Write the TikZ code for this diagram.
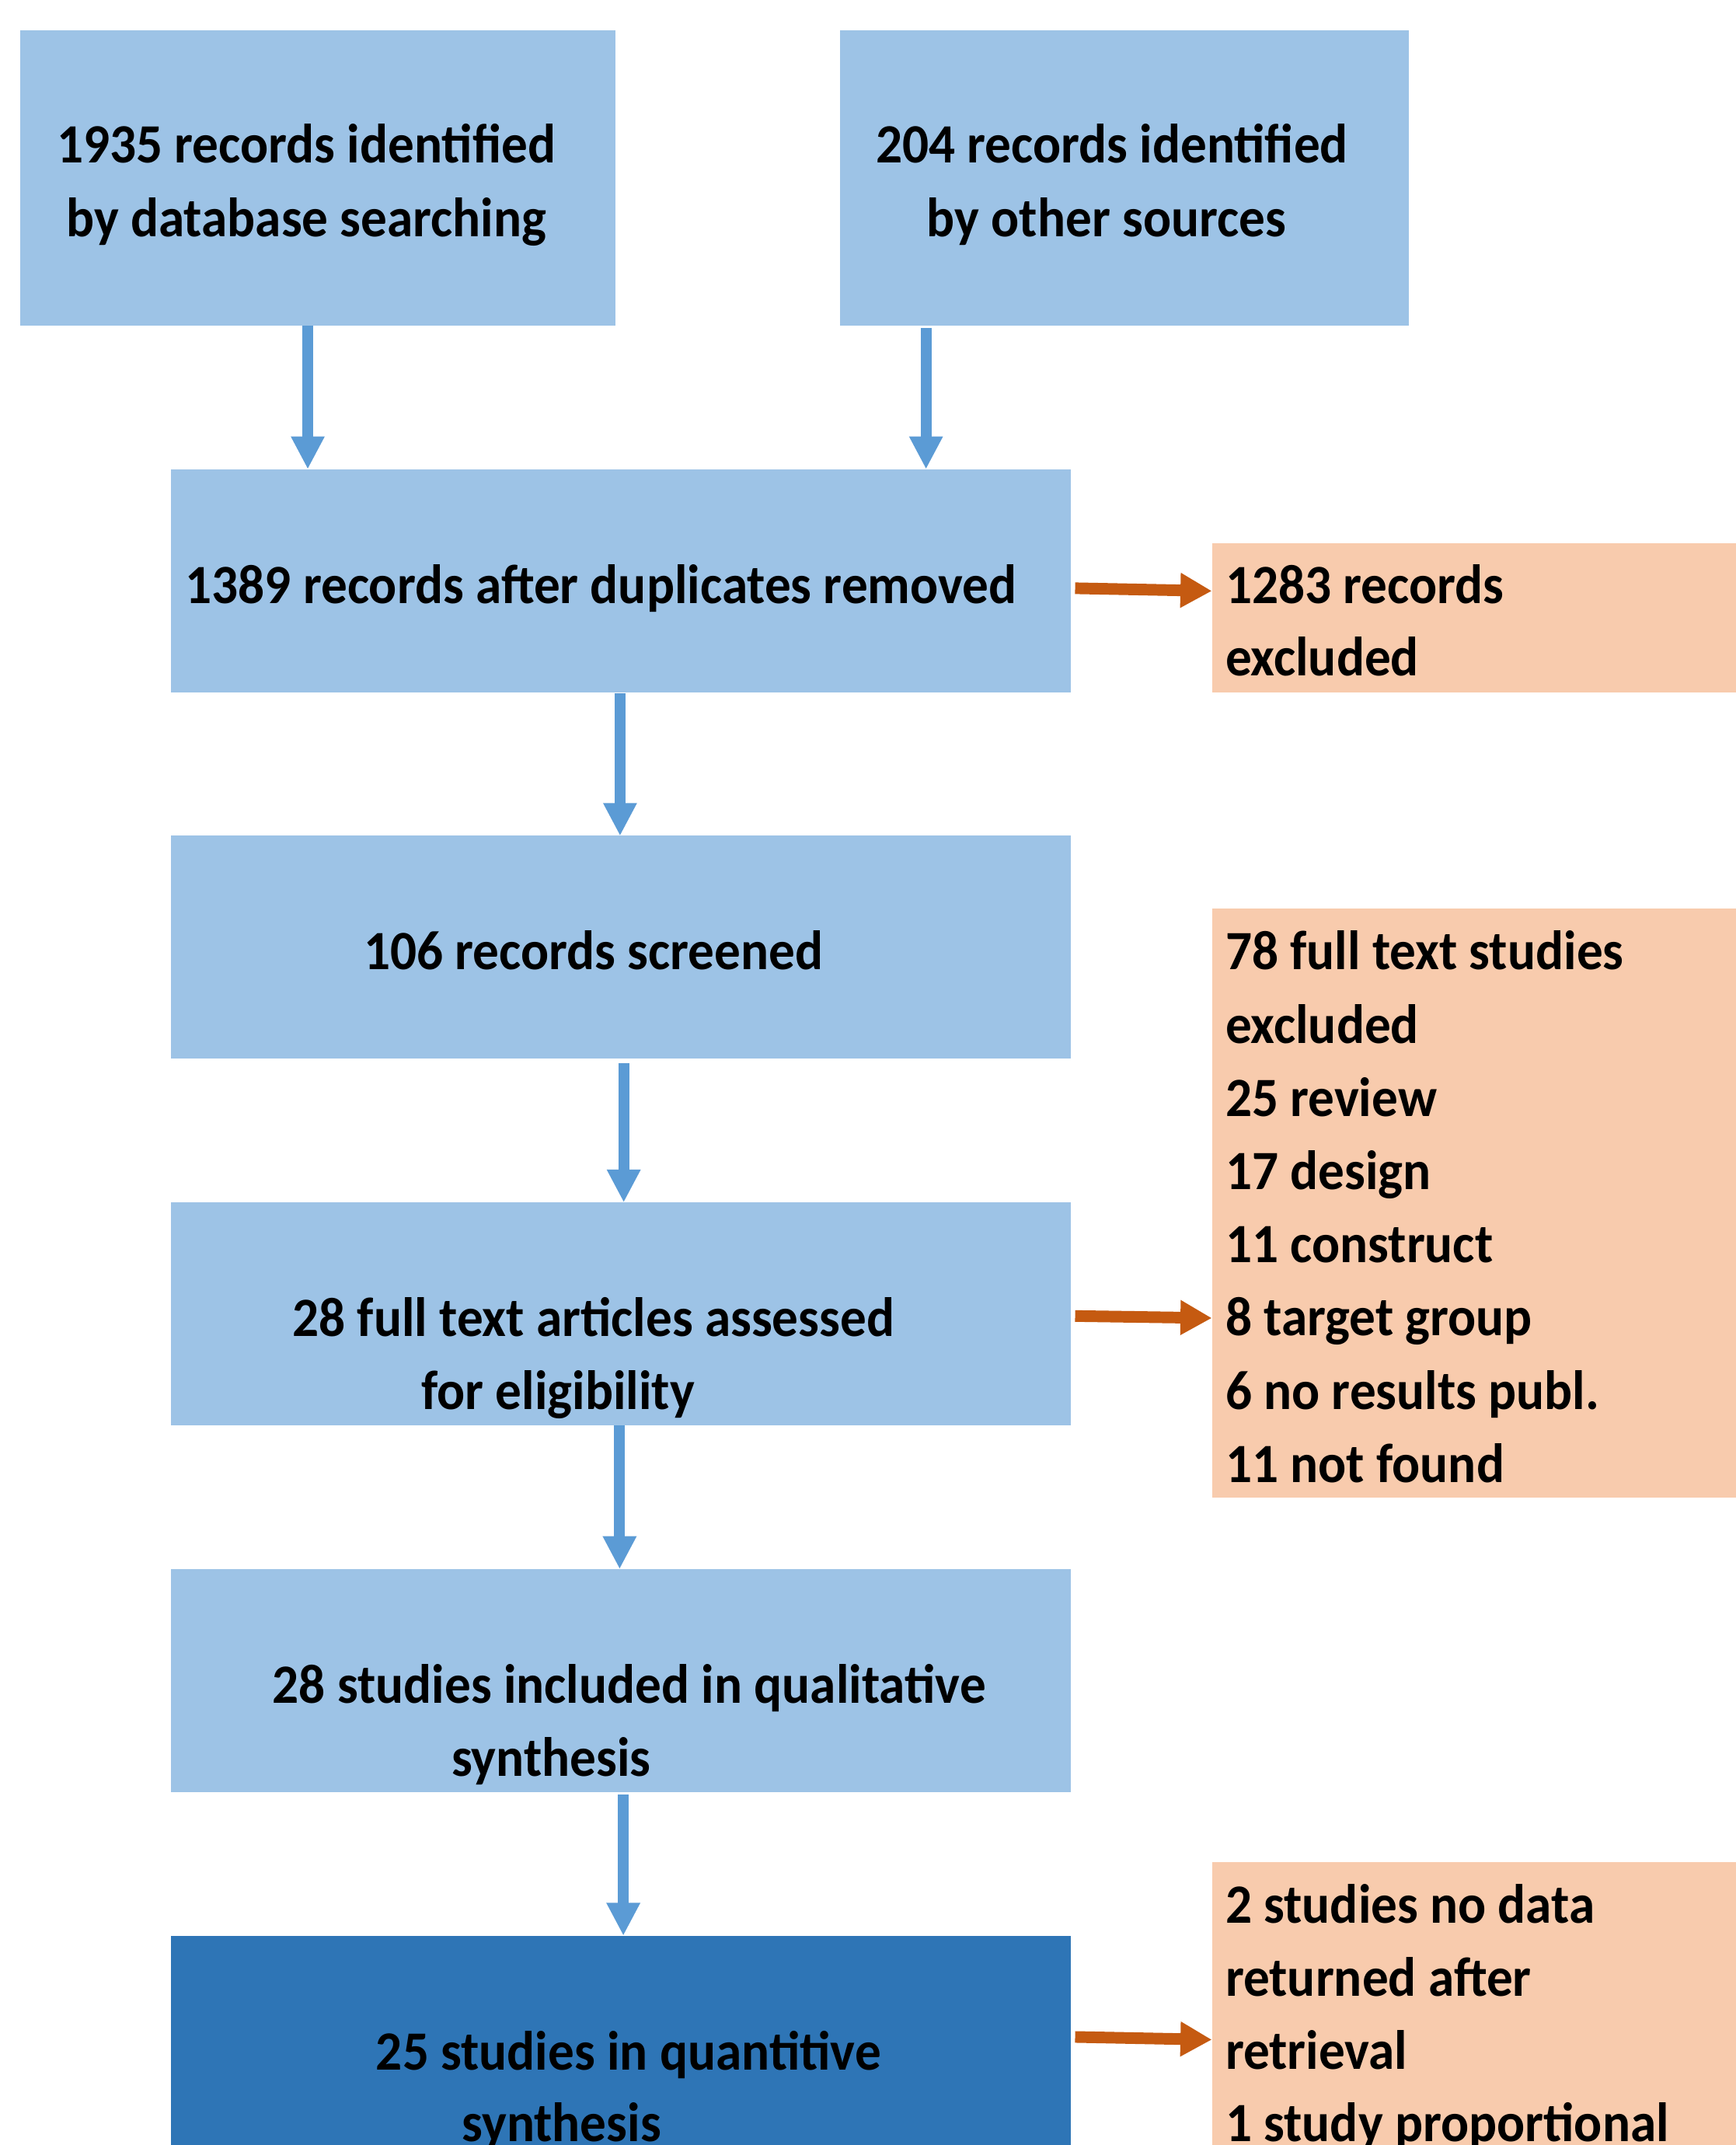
\documentclass[tikz,border=0pt]{standalone}
\usepackage{fontspec}
\setmainfont{Carlito}
\usetikzlibrary{arrows.meta}
\definecolor{lightbox}{HTML}{9DC3E6}
\definecolor{arrowblue}{HTML}{5B9BD5}
\definecolor{darkbox}{HTML}{2E75B6}
\definecolor{orangebox}{HTML}{F8CBAD}
\definecolor{arroworange}{HTML}{C55A11}
\newcommand\vstr[1]{\scalebox{1}[1.06]{#1}}
\begin{document}
\begin{tikzpicture}[x=1pt,y=-1pt,
  boxbase/.style={rectangle,draw=none,inner sep=0pt,outer sep=0pt,anchor=north west},
  bluebox/.style={boxbase,fill=lightbox},
  deepbox/.style={boxbase,fill=darkbox},
  exclbox/.style={boxbase,fill=orangebox},
  txt/.style={inner sep=0pt,outer sep=0pt,anchor=base,yshift=-2pt,font=\fontsize{38.2}{53.6}\selectfont\bfseries},
  txtl/.style={txt,anchor=base west},
  barrow/.style={draw=arrowblue,line width=8pt,-{Triangle[length=24pt,width=23pt]}},
  oarrow/.style={draw=arroworange,line width=8.5pt,-{Triangle[length=23pt,width=24pt]}}]
\useasboundingbox (0,0) rectangle (1269,1568);
\fill[white] (0,0) rectangle (1269,1568);
% boxes
\node[bluebox,minimum width=435pt,minimum height=216pt] (A) at (15,22) {};
\node[bluebox,minimum width=416pt,minimum height=216pt] (B) at (614,22) {};
\node[bluebox,minimum width=658pt,minimum height=163pt] (C) at (125,343) {};
\node[exclbox,minimum width=383pt,minimum height=109pt] (D) at (886,397) {};
\node[bluebox,minimum width=658pt,minimum height=163pt] (E) at (125,611) {};
\node[exclbox,minimum width=383pt,minimum height=431pt] (F) at (886,664) {};
\node[bluebox,minimum width=658pt,minimum height=163pt] (G) at (125,879) {};
\node[bluebox,minimum width=658pt,minimum height=163pt] (H) at (125,1147) {};
\node[deepbox,minimum width=658pt,minimum height=153pt] (I) at (125,1415) {};
\node[exclbox,minimum width=383pt,minimum height=207pt] (J) at (886,1361) {};
% texts
\node[txt] (tA1) at (224,117) {\vstr{1935 records identified}};
\node[txt] (tA2) at (224,171) {\vstr{by database searching}};
\node[txt] (tB1) at (813,117) {\vstr{204 records identified}};
\node[txt] (tB2) at (809,171) {\vstr{by other sources}};
\node[txt] (tC1) at (439.5,439) {\vstr{1389 records after duplicates removed}};
\node[txtl] (tD1) at (896,439) {\vstr{1283 records}};
\node[txtl] (tD2) at (896,492) {\vstr{excluded}};
\node[txt] (tE1) at (434,707) {\vstr{106 records screened}};
\node[txtl] (tF1) at (896,707) {\vstr{78 full text studies}};
\node[txtl] (tF2) at (896,760.5) {\vstr{excluded}};
\node[txtl] (tF3) at (896,814) {\vstr{25 review}};
\node[txtl] (tF4) at (896,867.5) {\vstr{17 design}};
\node[txtl] (tF5) at (896,921) {\vstr{11 construct}};
\node[txtl] (tF6) at (896,974.5) {\vstr{8 target group}};
\node[txtl] (tF7) at (896,1028) {\vstr{6 no results publ.}};
\node[txtl] (tF8) at (896,1081.5) {\vstr{11 not found}};
\node[txt] (tG1) at (434,975) {\vstr{28 full text articles assessed}};
\node[txt] (tG2) at (408,1028) {\vstr{for eligibility}};
\node[txt] (tH1) at (460,1243) {\vstr{28 studies included in qualitative}};
\node[txt] (tH2) at (403,1296.5) {\vstr{synthesis}};
\node[txt] (tI1) at (459.5,1511) {\vstr{25 studies in quantitive}};
\node[txt] (tI2) at (410.5,1563.5) {\vstr{synthesis}};
\node[txtl] (tJ1) at (896,1404) {\vstr{2 studies no data}};
\node[txtl] (tJ2) at (896,1457) {\vstr{returned after}};
\node[txtl] (tJ3) at (896,1510.5) {\vstr{retrieval}};
\node[txtl] (tJ4) at (896,1563.5) {\vstr{1 study proportional}};
% blue connectors
\coordinate (sA) at ([xshift=-7.5pt]A.south);
\coordinate (sB) at ([xshift=-145pt,yshift=-2pt]B.south);
\coordinate (sC) at ([xshift=-0.7pt,yshift=-1pt]C.south);
\coordinate (sE) at ([xshift=2pt,yshift=-3pt]E.south);
\coordinate (sG) at ([xshift=-1pt]G.south);
\coordinate (sH) at ([xshift=1.7pt,yshift=-2pt]H.south);
\draw[barrow] (sA) -- (sA |- C.north);
\draw[barrow] (sB) -- (sB |- C.north);
\draw[barrow] (sC) -- (sC |- E.north);
\draw[barrow] (sE) -- (sE |- G.north);
\draw[barrow] (sG) -- (sG |- H.north);
\draw[barrow] (sH) -- (sH |- I.north);
% orange connectors
\draw[oarrow] ([xshift=3pt,yshift=-5.5pt]C.east) -- ([yshift=19.5pt]D.west);
\draw[oarrow] ([xshift=3pt,yshift=-1.5pt]G.east) -- ([yshift=-84pt]F.west);
\draw[oarrow] ([xshift=3pt,yshift=2.5pt]I.east) -- ([yshift=-26.5pt]J.west);
\end{tikzpicture}
\end{document}
